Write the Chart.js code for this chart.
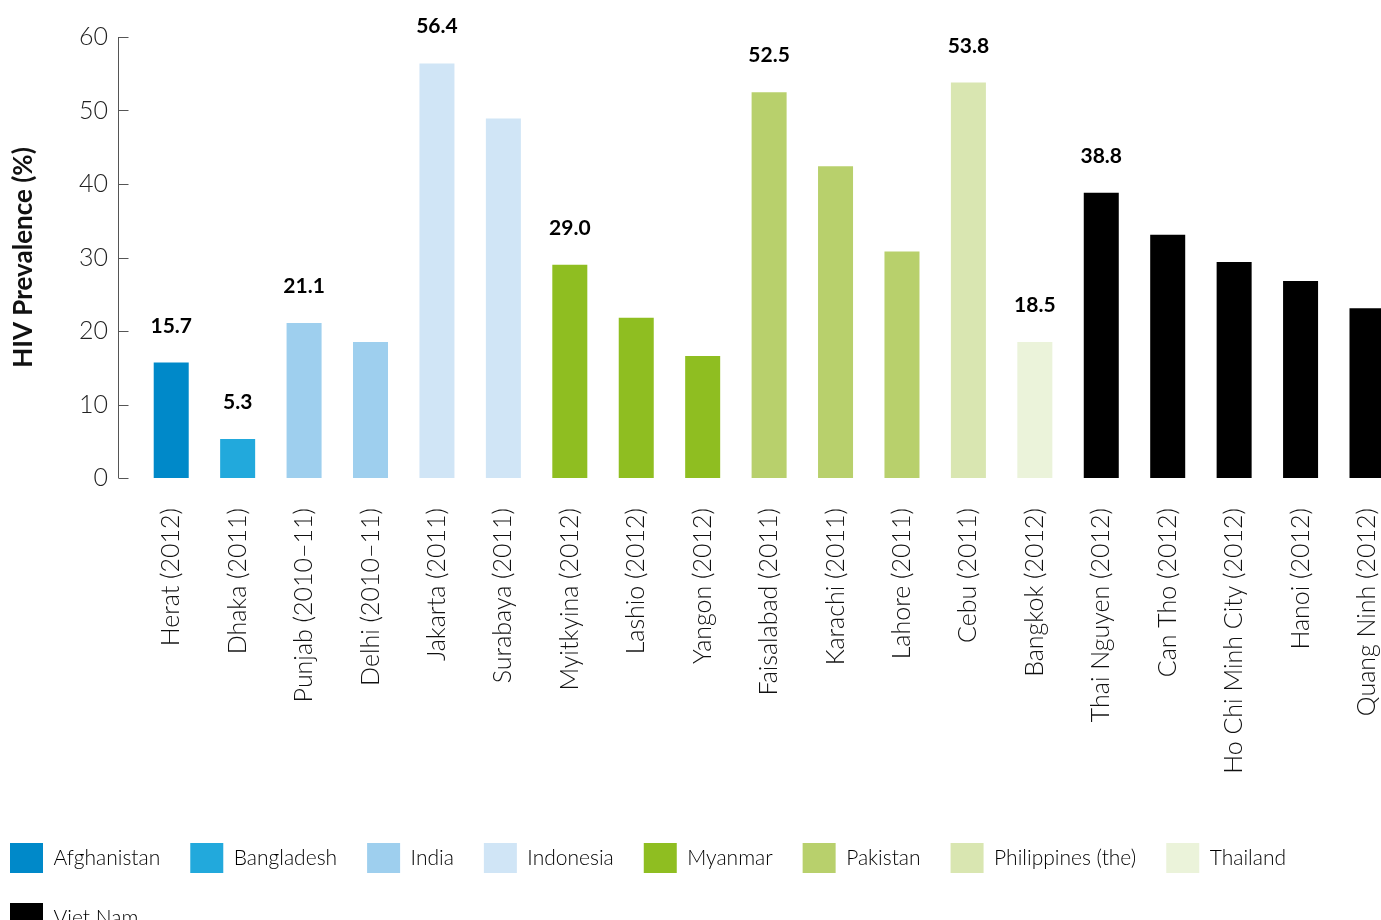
<!DOCTYPE html>
<html>
<head>
<meta charset="utf-8">
<script src="https://cdn.jsdelivr.net/npm/chart.js@4/dist/chart.umd.min.js"></script>
<style>
html, body { margin: 0; padding: 0; overflow: hidden; background: #fff; }
</style>
</head>
<body>
<canvas id="chart" width="1419" height="943"></canvas>
<script>
// sites and their HIV prevalence (%)
const sites = [
  'Herat (2012)', 'Dhaka (2011)', 'Punjab (2010\u201311)', 'Delhi (2010\u201311)',
  'Jakarta (2011)', 'Surabaya (2011)', 'Myitkyina (2012)', 'Lashio (2012)',
  'Yangon (2012)', 'Faisalabad (2011)', 'Karachi (2011)', 'Lahore (2011)',
  'Cebu (2011)', 'Bangkok (2012)', 'Thai Nguyen (2012)', 'Can Tho (2012)',
  'Ho Chi Minh City (2012)', 'Hanoi (2012)', 'Quang Ninh (2012)'
];
const prevalence = [15.7, 5.3, 21.1, 18.5, 56.4, 48.9, 29.0, 21.8, 16.6, 52.5, 42.4, 30.8, 53.8, 18.5, 38.8, 33.1, 29.4, 26.8, 23.1];
// which bars carry a printed value
const showValue = [true, true, true, false, true, false, true, false, false, true, false, false, true, true, true, false, false, false, false];
// country index of each site
const siteCountry = [0, 1, 2, 2, 3, 3, 4, 4, 4, 5, 5, 5, 6, 7, 8, 8, 8, 8, 8];
const countries = ['Afghanistan', 'Bangladesh', 'India', 'Indonesia', 'Myanmar', 'Pakistan', 'Philippines (the)', 'Thailand', 'Viet Nam'];
const countryColours = ['#0089c9', '#22a9dc', '#9ecfee', '#d0e5f6', '#8fbe21', '#b8d06c', '#d9e6b1', '#ebf3da', '#000000'];
const yTicks = [0, 10, 20, 30, 40, 50, 60];

// axis line with inward ticks + value labels above bars
const axisAndLabels = {
  id: 'axisAndLabels',
  afterDatasetsDraw(chart) {
    const ctx = chart.ctx;
    const y = chart.scales.y;
    const x0 = Math.round(chart.chartArea.left - 20) + 0.5;
    ctx.save();
    ctx.strokeStyle = '#555';
    ctx.lineWidth = 1;
    ctx.beginPath();
    ctx.moveTo(x0, y.getPixelForValue(yTicks[yTicks.length - 1]));
    ctx.lineTo(x0, y.getPixelForValue(0));
    yTicks.forEach(v => {
      const py = Math.round(y.getPixelForValue(v)) + 0.5;
      ctx.moveTo(x0, py);
      ctx.lineTo(x0 + 10, py);
    });
    ctx.stroke();

    ctx.fillStyle = '#000';
    ctx.font = 'bold 21px Lato';
    ctx.textAlign = 'center';
    ctx.textBaseline = 'alphabetic';
    chart.getDatasetMeta(0).data.forEach((bar, i) => {
      if (showValue[i]) ctx.fillText(prevalence[i].toFixed(1), bar.x, bar.y - 30);
    });
    ctx.restore();
  }
};

new Chart(document.getElementById('chart'), {
  type: 'bar',
  data: {
    labels: sites,
    datasets: [{
      data: prevalence,
      backgroundColor: siteCountry.map(c => countryColours[c]),
      categoryPercentage: 1,
      barPercentage: 0.527
    }]
  },
  options: {
    responsive: false,
    animation: false,
    layout: { padding: { top: 27, left: -20, right: 0, bottom: 0 } },
    plugins: {
      tooltip: { enabled: false },
      legend: {
        position: 'bottom',
        align: 'start',
        onClick: null,
        labels: {
          boxWidth: 33,
          boxHeight: 30,
          padding: 30,
          color: '#222',
          font: { family: 'Lato', size: 21, weight: 300 },
          generateLabels: () => countries.map((c, i) => ({
            text: c,
            fillStyle: countryColours[i],
            strokeStyle: countryColours[i],
            lineWidth: 0,
            hidden: false,
            index: i
          }))
        }
      }
    },
    scales: {
      x: {
        grid: { display: false },
        border: { display: false },
        ticks: {
          autoSkip: false,
          minRotation: 90,
          maxRotation: 90,
          padding: 22,
          color: '#111',
          font: { family: 'Lato', size: 25, weight: 300 }
        },
        afterFit: s => { s.height = 335; }
      },
      y: {
        min: 0,
        max: 60,
        grid: { display: false },
        border: { display: false },
        ticks: {
          stepSize: 10,
          padding: 22,
          color: '#222',
          font: { family: 'Lato', size: 25, weight: 300 }
        },
        title: {
          display: true,
          text: 'HIV Prevalence (%)',
          color: '#111',
          font: { family: 'Lato', size: 26, weight: 'bold' },
          padding: { top: 28, bottom: 0 }
        },
        afterFit: s => { s.width = 158; }
      }
    }
  },
  plugins: [axisAndLabels]
});
</script>
</body>
</html>
